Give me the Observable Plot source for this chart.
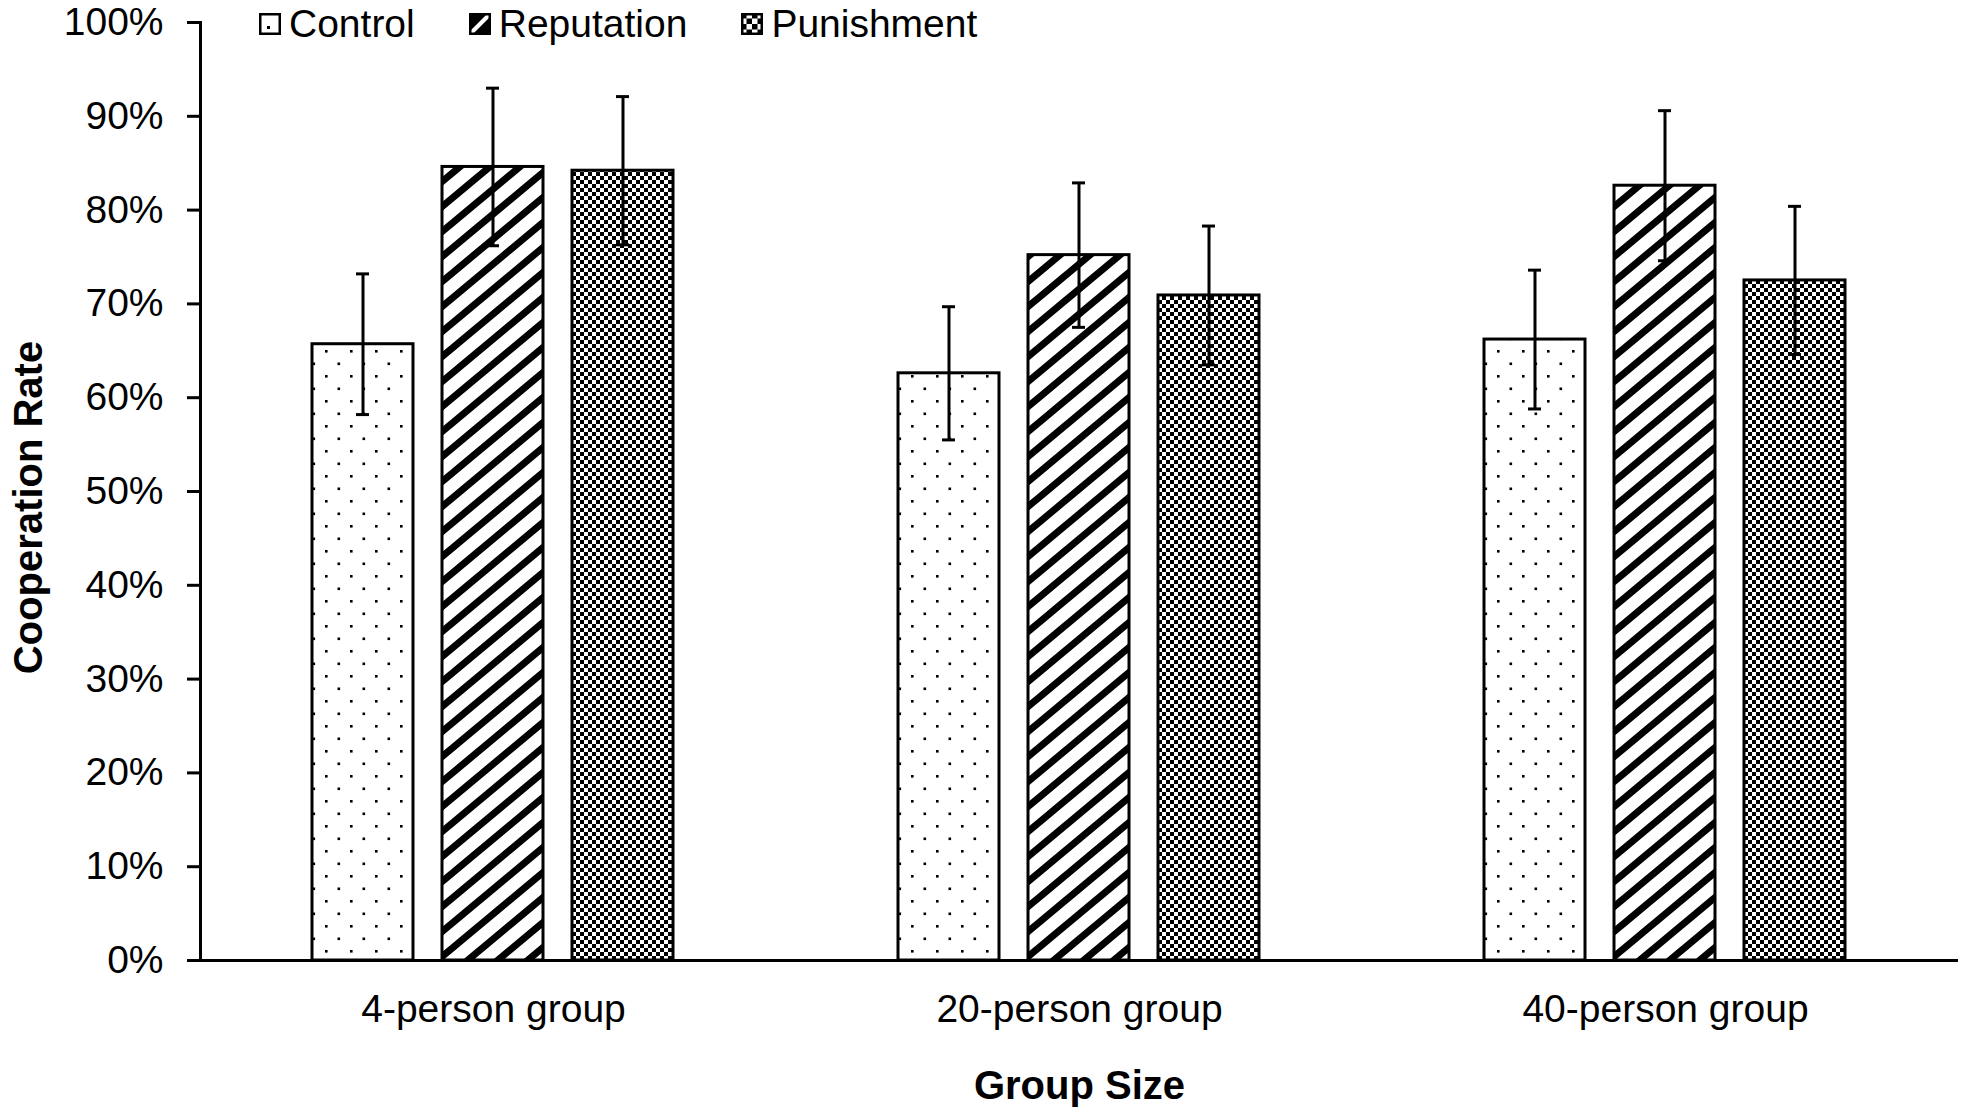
<!DOCTYPE html>
<html><head><meta charset="utf-8">
<script src="https://cdn.jsdelivr.net/npm/d3@7"></script>
<script src="https://cdn.jsdelivr.net/npm/@observablehq/plot@0.6"></script>
<style>
html,body{margin:0;padding:0;background:#fff;}
#wrap{position:relative;width:1965px;height:1109px;font-family:"Liberation Sans",Arial,sans-serif;}
#legend{position:absolute;top:0;left:259px;height:48px;display:flex;align-items:center;font-size:39px;color:#000;}
.item{display:flex;align-items:center;margin-right:54px;}
.item svg{width:22px;height:22px;margin-right:8px;display:block;}
[aria-label="y-axis label"] text,[aria-label="fx-axis label"] text{font-weight:bold;font-size:40px;}
</style></head>
<body>
<svg width="0" height="0" style="position:absolute">
<defs>
 <pattern id="dots" patternUnits="userSpaceOnUse" width="25" height="25">
   <rect width="25" height="25" fill="#fff"/>
   <rect x="0" y="0" width="2.6" height="2.6" fill="#000"/>
   <rect x="12.5" y="12.5" width="2.6" height="2.6" fill="#000"/>
 </pattern>
 <pattern id="stripes" patternUnits="userSpaceOnUse" width="30" height="25">
   <rect width="30" height="25" fill="#fff"/>
   <path d="M-30,25L30,-25M-30,50L60,-25M0,50L60,0" stroke="#000" stroke-width="7"/>
 </pattern>
 <pattern id="checks" patternUnits="userSpaceOnUse" width="8" height="8">
   <rect width="8" height="8" fill="#fff"/>
   <rect width="4" height="4" fill="#000"/>
   <rect x="4" y="4" width="4" height="4" fill="#000"/>
 </pattern>
 <pattern id="lgdots" patternUnits="userSpaceOnUse" width="22" height="22">
   <rect width="22" height="22" fill="#fff"/>
   <rect x="8" y="13" width="3" height="3" fill="#000"/>
 </pattern>
 <pattern id="lgstripes" patternUnits="userSpaceOnUse" width="22" height="22">
   <rect width="22" height="22" fill="#000"/>
   <path d="M2,20L20,2" stroke="#fff" stroke-width="4"/>
 </pattern>
 <pattern id="lgchecks" patternUnits="userSpaceOnUse" width="11" height="11">
   <rect width="11" height="11" fill="#fff"/>
   <rect width="5.5" height="5.5" fill="#000"/>
   <rect x="5.5" y="5.5" width="5.5" height="5.5" fill="#000"/>
 </pattern>
</defs>
</svg>
<div id="wrap">
  <div id="chart"></div>
  <div id="legend"></div>
</div>
<script>
const groups = ["4-person group", "20-person group", "40-person group"];
const conditions = ["Control", "Reputation", "Punishment"];
const control = [65.7, 62.6, 66.2];
const reputation = [84.6, 75.2, 82.6];
const punishment = [84.2, 70.9, 72.5];
const controlErr = [7.5, 7.1, 7.4];
const reputationErr = [8.4, 7.7, 8.0];
const punishmentErr = [7.9, 7.4, 7.9];
const yTicks = [0, 10, 20, 30, 40, 50, 60, 70, 80, 90, 100];

const series = {Control: [control, controlErr], Reputation: [reputation, reputationErr], Punishment: [punishment, punishmentErr]};
const rows = [];
groups.forEach((g, i) => {
  conditions.forEach(c => {
    const [v, e] = series[c];
    rows.push({group: g, condition: c, value: v[i], lo: v[i] - e[i], hi: v[i] + e[i]});
  });
});

const patterns = ["url(#dots)", "url(#stripes)", "url(#checks)"];
const legendPatterns = ["url(#lgdots)", "url(#lgstripes)", "url(#lgchecks)"];

const chart = Plot.plot({
  width: 1965,
  height: 1109,
  marginLeft: 200,
  marginRight: 7,
  marginTop: 22,
  marginBottom: 149,
  style: {fontFamily: '"Liberation Sans", Arial, sans-serif', fontSize: "39px", color: "#000", background: "#fff", overflow: "visible"},
  fx: {domain: groups, padding: 0, label: "Group Size"},
  x: {domain: conditions, paddingInner: 0.223, paddingOuter: 0.865, axis: null},
  y: {domain: [0, 100], label: "Cooperation Rate"},
  color: {domain: conditions, range: patterns},
  marks: [
    Plot.barY(rows, {fx: "group", x: "condition", y: "value", fill: "condition", stroke: "#000", strokeWidth: 3}),
    Plot.ruleX(rows, {fx: "group", x: "condition", y1: "lo", y2: "hi", stroke: "#000", strokeWidth: 3}),
    Plot.tickY(rows, {fx: "group", x: "condition", y: "hi", insetLeft: 44, insetRight: 44, stroke: "#000", strokeWidth: 3}),
    Plot.tickY(rows, {fx: "group", x: "condition", y: "lo", insetLeft: 44, insetRight: 44, stroke: "#000", strokeWidth: 3}),
    Plot.ruleY([0], {stroke: "#000", strokeWidth: 3}),
    Plot.frame({anchor: "left", facet: "super", stroke: "#000", strokeWidth: 3}),
    Plot.axisY({ticks: yTicks, tickFormat: d => d + "%", tickSize: 13, tickPadding: 24, strokeWidth: 3, label: "Cooperation Rate", labelAnchor: "center", labelArrow: "none", labelOffset: 187}),
    Plot.axisFx({anchor: "bottom", tickSize: 0, tickPadding: 34, label: "Group Size", labelAnchor: "center", labelArrow: "none", labelOffset: 138})
  ]
});
const yLabel = chart.querySelector('[aria-label="y-axis label"]');
if (yLabel) yLabel.setAttribute("transform", ((yLabel.getAttribute("transform") || "") + " translate(0,16)").trim());
document.getElementById("chart").appendChild(chart);

const legend = document.getElementById("legend");
conditions.forEach((c, i) => {
  const item = document.createElement("div");
  item.className = "item";
  item.innerHTML = `<svg viewBox="0 0 22 22"><rect x="1.25" y="1.25" width="19.5" height="19.5" fill="${legendPatterns[i]}" stroke="#000" stroke-width="2.5"/></svg><span>${c}</span>`;
  legend.appendChild(item);
});
</script>
</body></html>
